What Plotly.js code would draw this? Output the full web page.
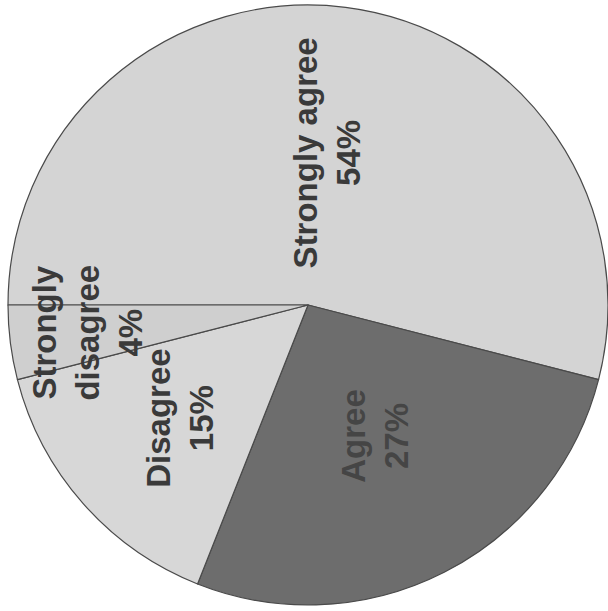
<!DOCTYPE html>
<html>
<head>
<meta charset="utf-8">
<script src="https://cdn.plot.ly/plotly-3.0.1.min.js"></script>
<style>
  html, body { margin: 0; padding: 0; background: #ffffff; }
  #chart { width: 608px; height: 611px; }
</style>
</head>
<body>
<div id="chart"></div>
<script>
// Survey responses
const labels = ['Strongly agree', 'Agree', 'Disagree', 'Strongly disagree'];
const labelLines = ['Strongly agree', 'Agree', 'Disagree', 'Strongly<br>disagree'];
const values = [54, 27, 15, 4];

// Styling
const sliceColors = ['#d4d4d4', '#6d6d6d', '#d7d7d7', '#cfcfcf'];
const textColors = ['#3a3a3a', '#454545', '#3a3a3a', '#3a3a3a'];
const labelRadius = [0.51, 0.49, 0.57, 0.74];   // fraction of pie radius for each label

const W = 608, H = 611;
const cx = 308, cy = 305, R = 300;
const startAngle = -90;   // first slice starts at 9 o'clock, runs clockwise

const total = values.reduce((a, b) => a + b, 0);

// Labels sit on each slice's mid-angle, written sideways
const annotations = [];
let cum = 0;
values.forEach((v, i) => {
  const mid = (startAngle + 360 * (cum + v / 2) / total) * Math.PI / 180;
  cum += v;
  const px = cx + labelRadius[i] * R * Math.sin(mid);
  const py = cy - labelRadius[i] * R * Math.cos(mid);
  annotations.push({
    xref: 'paper', yref: 'paper',
    x: px / W, y: (H - py) / H,
    xanchor: 'center', yanchor: 'middle',
    showarrow: false,
    textangle: -90,
    text: labelLines[i] + '<br>' + v + '%',
    font: { family: 'Liberation Sans, Arial, sans-serif', size: 33, weight: 'bold', color: textColors[i] }
  });
});

const trace = {
  type: 'pie',
  labels: labels,
  values: values,
  sort: false,
  direction: 'clockwise',
  rotation: startAngle,
  textinfo: 'none',
  hoverinfo: 'skip',
  marker: { colors: sliceColors, line: { color: '#4a4a4a', width: 1.2 } },
  domain: {
    x: [(cx - R) / W, (cx + R) / W],
    y: [(H - cy - R) / H, (H - cy + R) / H]
  }
};

const layout = {
  width: W, height: H,
  margin: { l: 0, r: 0, t: 0, b: 0 },
  paper_bgcolor: '#ffffff',
  showlegend: false,
  annotations: annotations
};

Plotly.newPlot('chart', [trace], layout, { staticPlot: true, displayModeBar: false });
</script>
</body>
</html>
